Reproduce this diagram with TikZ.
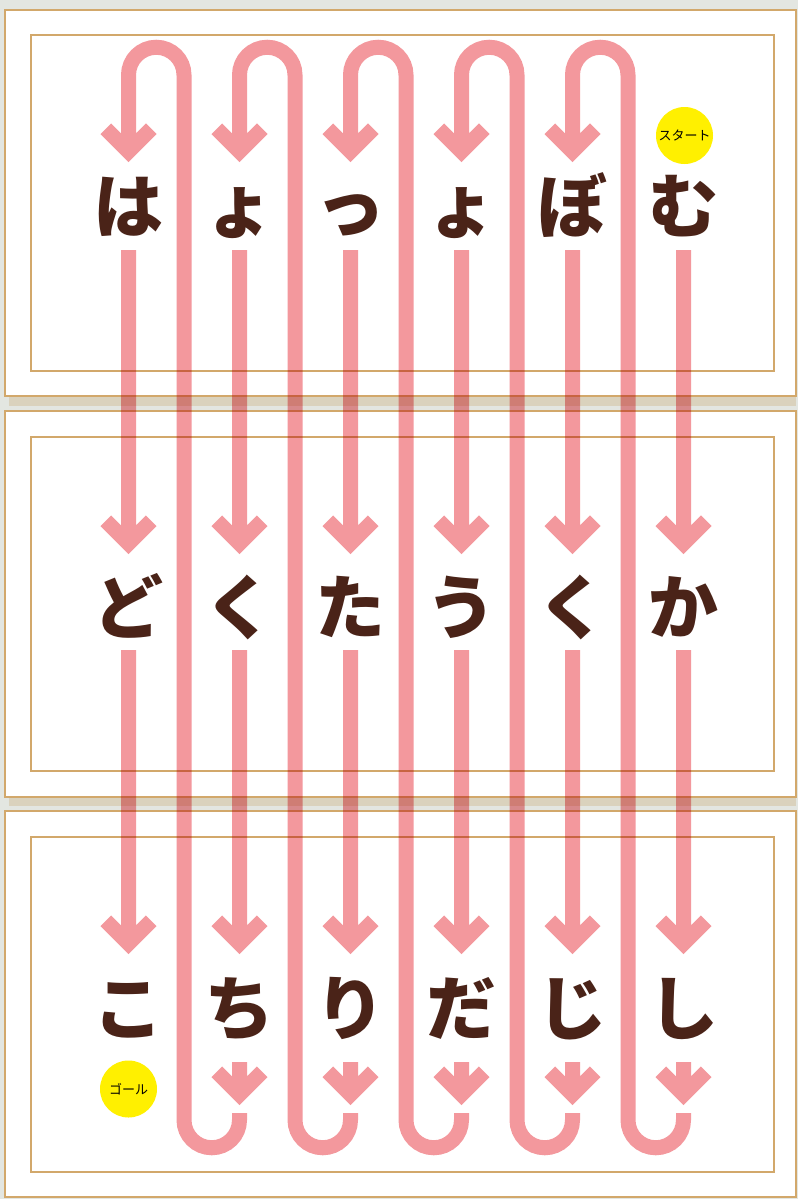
\documentclass[tikz,border=0pt]{standalone}
\usepackage{fontspec}
\usepackage{xcolor}
\usepackage{tikz}
\usetikzlibrary{calc}
\newfontfamily\jpfont{Noto Sans CJK JP}
\definecolor{bggray}{HTML}{E3E6E1}
\definecolor{cardtan}{HTML}{D2A86B}
\definecolor{shadowbeige}{HTML}{DAD2BD}
\definecolor{routepink}{HTML}{F3989D}
\definecolor{kanabrown}{HTML}{4A2318}
\definecolor{badgeyellow}{HTML}{FFF000}
\tikzstyle{card} = [
    draw=cardtan,
    line width=2.5pt,
    fill=white
]
\tikzstyle{framein} = [
    draw=cardtan,
    line width=1.3pt
]
\tikzstyle{route} = [
    draw=routepink,
    line width=15pt,
    line join=miter,
    blend mode=multiply
]
\tikzstyle{kana} = [
    font=\jpfont\bfseries\fontsize{70}{70}\selectfont,
    text=kanabrown,
    text height=61.6pt,
    text depth=8.4pt,
    inner sep=0pt
]
\tikzstyle{badge} = [
    circle,
    fill=badgeyellow,
    minimum size=57pt,
    inner sep=0pt,
    font=\jpfont\fontsize{13}{13}\selectfont
]
\newcommand{\chevto}[1]{-- (#1) ++(-22.7,-22.7) -- ++(22.7,22.7) -- ++(22.7,-22.7)}

\begin{document}
\begin{tikzpicture}[x=1pt,y=-1pt]

\fill[bggray] (0,0) rectangle (798,1199);
\useasboundingbox (0,0) rectangle (798,1199);

% cards
\fill[shadowbeige] (9,396) rectangle (796,406);

\fill[shadowbeige] (9,797) rectangle (796,806);

\draw[card] (5,10) rectangle (796,396);

\draw[framein] (31,35) rectangle (774,371);

\draw[card] (5,411) rectangle (796,797);

\draw[framein] (31,437) rectangle (774,771);

\draw[card] (5,811) rectangle (796,1197);

\draw[framein] (31,837) rectangle (774,1172);

% letters
\foreach \k [count=\i] in {は,ょ,っ,ょ,ぼ,む}
    \node[kana] (a\i) at ({17.5+111*\i},206) {\k};

\foreach \k [count=\i] in {ど,く,た,う,く,か}
    \node[kana] (b\i) at ({17.5+111*\i},607) {\k};

\foreach \k [count=\i] in {こ,ち,り,だ,じ,し}
    \node[kana] (c\i) at ({17.5+111*\i},1008) {\k};

\node[badge] (start) at (684.5,135.5) {スタート};

\node[badge] (goal) at (128.5,1089) {ゴール};

% arrows
\foreach \i in {1,...,6} {
    \draw[route] ($(a\i)+(0,44)$) \chevto{$(b\i)+(0,-63.6)$};
    \draw[route] ($(b\i)+(0,43)$) \chevto{$(c\i)+(0,-64.6)$};
}

\foreach \i/\j in {2/1,3/2,4/3,5/4,6/5} {
    \draw[route] ($(c\i)+(0,54)$) \chevto{$(c\i)+(0,86.4)$};
    \draw[route] ($(c\i)+(0,105)$) -- ++(0,7)
        arc[start angle=0, end angle=180, radius=27.75]
        -- ($(a\j)+(55.5,-131)$)
        arc[start angle=0, end angle=-180, radius=27.75]
        \chevto{$(a\j)+(0,-54.6)$};
}

\end{tikzpicture}
\end{document}
